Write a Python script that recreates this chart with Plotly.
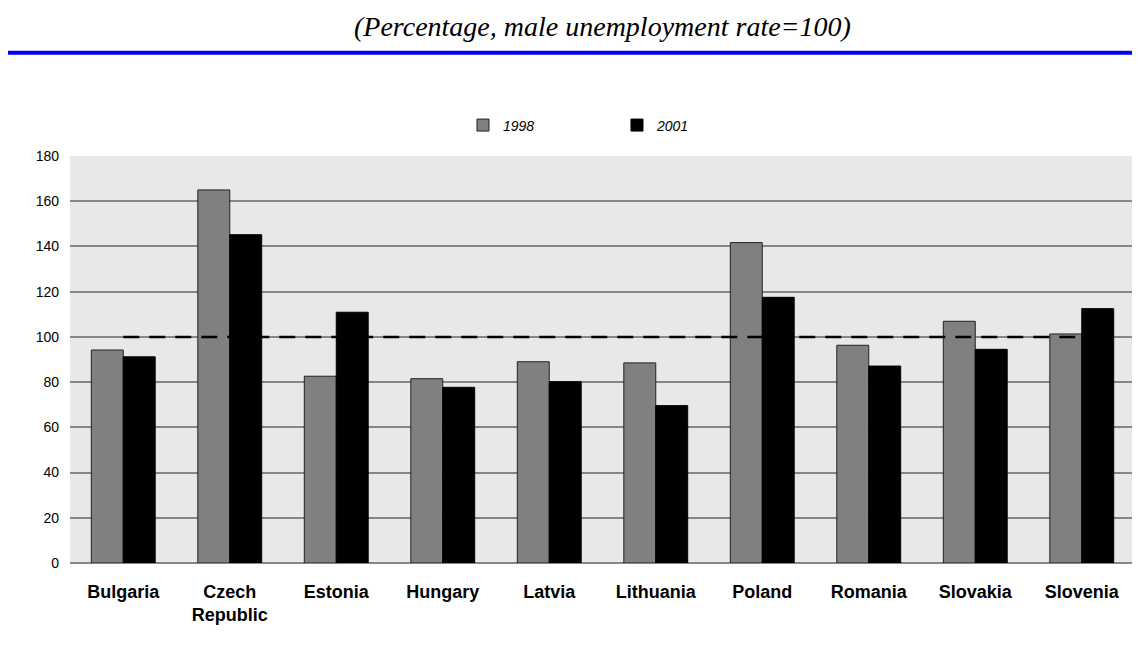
import plotly.graph_objects as go

countries = ["Bulgaria", "Czech<br>Republic", "Estonia", "Hungary", "Latvia",
             "Lithuania", "Poland", "Romania", "Slovakia", "Slovenia"]
values_1998 = [94.2, 165.0, 82.6, 81.5, 89.0, 88.5, 141.7, 96.3, 106.9, 101.3]
values_2001 = [91.2, 145.2, 110.9, 77.7, 80.2, 69.6, 117.5, 87.1, 94.5, 112.5]
reference_level = [100] * len(countries)
y_ticks = [0, 20, 40, 60, 80, 100, 120, 140, 160, 180]

fig = go.Figure()
fig.add_trace(go.Bar(x=countries, y=values_1998, name="1998",
                     marker=dict(color="#808080", line=dict(color="#222222", width=1))))
fig.add_trace(go.Bar(x=countries, y=values_2001, name="2001",
                     marker=dict(color="#000000", line=dict(color="#000000", width=1))))
fig.add_trace(go.Scatter(x=countries, y=reference_level, mode="lines", showlegend=False,
                         line=dict(color="#000000", width=2.5, dash="16px,10px"),
                         hoverinfo="skip"))

fig.update_layout(
    width=1132, height=644,
    margin=dict(l=62, r=5, t=148, b=89),
    paper_bgcolor="white",
    plot_bgcolor="#E8E8E8",
    barmode="group",
    bargap=0.4,
    bargroupgap=0,
    font=dict(family="Liberation Sans, Arial, sans-serif", color="#000000"),
    legend=dict(orientation="h", x=0.369, xanchor="left", y=1.075, yanchor="middle",
                font=dict(size=14, style="italic", family="Liberation Sans, Arial"),
                entrywidth=109, entrywidthmode="pixels", itemwidth=30,
                bgcolor="rgba(0,0,0,0)"),
    xaxis=dict(showgrid=False, tickfont=dict(size=18, weight="bold"),
               ticks="", ticklabelstandoff=16, showline=False),
    yaxis=dict(range=[0, 180], tickvals=y_ticks, showgrid=True, gridcolor="#868686",
               gridwidth=2, zeroline=True, zerolinecolor="#868686", zerolinewidth=2,
               tickfont=dict(size=14), ticks="", ticklabelstandoff=10, showline=False),
    shapes=[dict(type="line", xref="paper", yref="paper",
                 x0=-0.07, x1=1.01, y0=1.2538, y1=1.2538,
                 line=dict(color="#0000FF", width=4))],
    annotations=[dict(text="(Percentage, male unemployment rate=100)",
                      xref="paper", yref="paper", x=0.5, y=1.3194, yanchor="middle",
                      showarrow=False,
                      font=dict(family="Liberation Serif, Times New Roman, serif",
                                size=28, style="italic", color="#000000"))],
)

fig.write_html("out.html")
